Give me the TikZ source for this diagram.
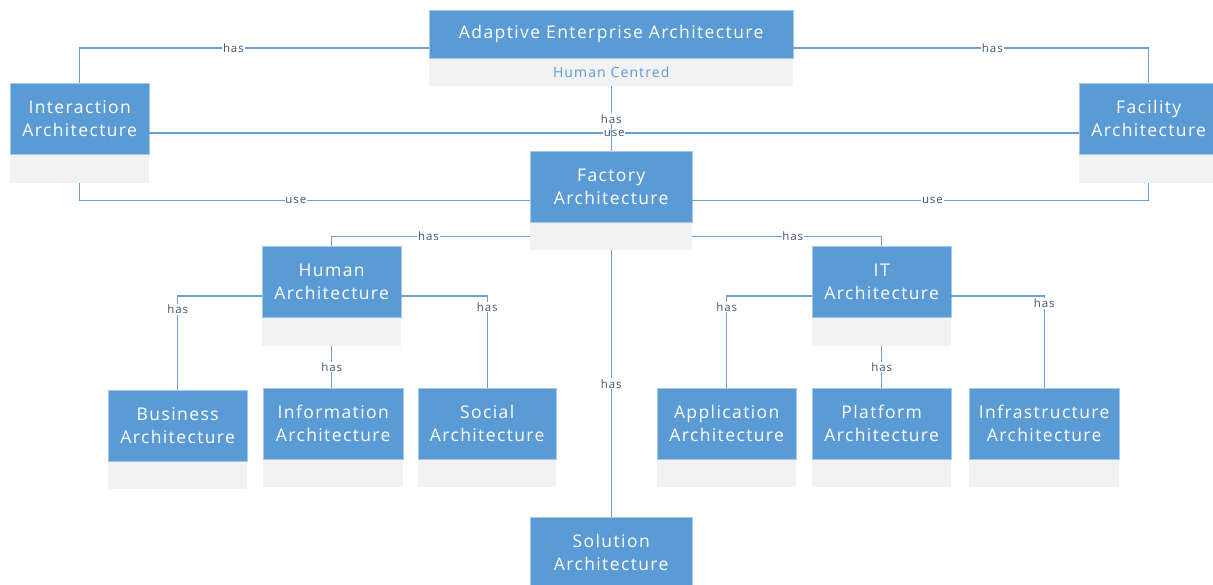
\documentclass[tikz,border=0pt]{standalone}
\usepackage{fontspec}
\setmainfont{Open Sans}
\newfontfamily\boxfont[LetterSpace=8]{Open Sans}
\usetikzlibrary{calc}
\definecolor{boxblue}{HTML}{5B9BD5}
\definecolor{boxgray}{HTML}{F2F2F2}
\definecolor{linkblue}{HTML}{6A9FD8}
\definecolor{lblcol}{HTML}{44546A}
\newcommand\archbox[6]{%
  \node[grayb, minimum width=#4pt, minimum height=#5pt, anchor=north west] (#1) at (#2,#3) {};
  \node[blueb, minimum width=#4pt, anchor=north] (#1b) at (#1.north) {#6};
}
\begin{document}
\begin{tikzpicture}[x=1pt,y=-1pt,
  grayb/.style={fill=boxgray, draw=none, inner sep=0pt},
  blueb/.style={fill=boxblue, draw=boxblue!55!white, line width=0.5pt, text=white,
    align=center, inner sep=0pt, minimum height=71pt,
    font=\boxfont\fontsize{17.5}{23}\selectfont},
  link/.style={draw=linkblue, line width=1.4pt},
  lab/.style={fill=white, inner sep=0.8pt, text=lblcol, font=\boxfont\fontsize{11.5}{12}\selectfont},
  subtxt/.style={text=boxblue, inner sep=0pt, font=\boxfont\fontsize{14}{16}\selectfont}]
\useasboundingbox (0,0) rectangle (1213,585);
\fill[white] (0,0) rectangle (1213,585);
% top node
\node[grayb, minimum width=364pt, minimum height=76pt, anchor=north west] (top) at (429,10) {};
\node[blueb, minimum width=364pt, minimum height=48pt, anchor=north] (topb) at (top.north) {Adaptive Enterprise Architecture};
\node[subtxt] (topc) at ($(topb.south)!0.5!(top.south)$) {Human Centred};
% other nodes
\archbox{int}{10}{83}{139}{100}{Interaction\\Architecture}
\archbox{fcl}{1079}{83}{139}{100}{Facility\\Architecture}
\archbox{fac}{530}{151}{162}{99}{Factory\\Architecture}
\archbox{hum}{262}{246}{139}{100}{Human\\Architecture}
\archbox{it}{812}{246}{139}{100}{IT\\Architecture}
\archbox{bus}{108}{390}{139}{99}{Business\\Architecture}
\archbox{inf}{263}{388}{140}{99}{Information\\Architecture}
\archbox{soc}{418}{388}{138}{99}{Social\\Architecture}
\archbox{app}{657}{388}{139}{99}{Application\\Architecture}
\archbox{pla}{812}{388}{139}{99}{Platform\\Architecture}
\archbox{infr}{969}{388}{150}{99}{Infrastructure\\Architecture}
\archbox{sol}{530}{517}{162}{99}{Solution\\Architecture}
\coordinate (facgl) at ($(facb.south west)!0.5!(fac.south west)$);
\coordinate (facgr) at ($(facb.south east)!0.5!(fac.south east)$);
% connectors
\draw[link] (top.west) -| node[lab,pos=0.28]{has} (int.north);
\draw[link] (top.east) -| node[lab,pos=0.28]{has} (fcl.north);
\draw[link] (int.east) -- node[lab,pos=0.5]{use} (fcl.west);
\draw[link] (top.south) -- node[lab,pos=0.5]{has} (facb.north);
\draw[link] (int.south) |- node[lab,pos=0.74]{use} (fac.west);
\draw[link] (fcl.south) |- node[lab,pos=0.737]{use} (fac.east);
\draw[link] (facgl) -| node[lab,pos=0.256]{has} (humb.north);
\draw[link] (facgr) -| node[lab,pos=0.265]{has} (itb.north);
\draw[link] (fac.south) -- node[lab,pos=0.5]{has} (solb.north);
\draw[link] (hum.west) -| node[lab,pos=0.57]{has} (busb.north);
\draw[link] (hum.south) -- node[lab,pos=0.5]{has} (hum.south |- infb.north);
\draw[link] (hum.east) -| node[lab,pos=0.56]{has} (socb.north);
\draw[link] (it.west) -| node[lab,pos=0.56]{has} (appb.north);
\draw[link] (it.south) -- node[lab,pos=0.5]{has} (it.south |- plab.north);
\draw[link] (it.east) -| node[lab,pos=0.54]{has} (infrb.north);
\end{tikzpicture}
\end{document}
